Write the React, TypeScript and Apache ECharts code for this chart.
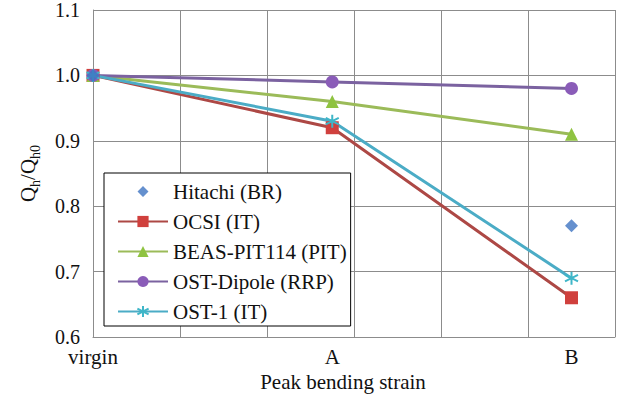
import React, { useEffect, useRef } from 'react';
import * as echarts from 'echarts';

const categories = ['virgin', 'A', 'B'];
const strainPositions = [0, 2.75, 5.5];
const hitachi: (number | null)[] = [1.0, null, 0.77];
const ocsi = [1.0, 0.92, 0.66];
const beas = [1.0, 0.96, 0.91];
const ostDipole = [1.0, 0.99, 0.98];
const ost1 = [1.0, 0.93, 0.69];
const seriesNames = ['Hitachi (BR)', 'OCSI (IT)', 'BEAS-PIT114 (PIT)', 'OST-Dipole (RRP)', 'OST-1 (IT)'];

const FONT = 'Liberation Serif';
const FS = 21;

function pairs(vals: (number | null)[]) {
  return vals
    .map((v, i) => [strainPositions[i], v])
    .filter((p) => p[1] !== null);
}

const diamondLegendIcon =
  'path://M0,6.9L0.2,7L0,7.1ZM50,6.9L49.8,7L50,7.1ZM25,1.5L30.5,7L25,12.5L19.5,7Z';

export default function App() {
  const ref = useRef<HTMLDivElement>(null);
  useEffect(() => {
    document.body.style.margin = '0';
    const chart = echarts.init(ref.current!, null, { renderer: 'svg' });
    const lineCommon = {
      type: 'line',
      symbolSize: 13,
      z: 2,
    };
    chart.setOption({
      animation: false,
      backgroundColor: '#fff',
      textStyle: { fontFamily: FONT },
      grid: { left: 93, top: 8, width: 522, height: 329, containLabel: false },
      xAxis: {
        type: 'value',
        min: 0,
        max: 6,
        interval: 1,
        name: 'Peak bending strain',
        nameLocation: 'middle',
        nameGap: 34,
        nameTextStyle: { fontFamily: FONT, fontSize: FS, color: '#111', padding: [0, 22, 0, 0] },
        axisLine: { show: true, lineStyle: { color: '#8c8c8c', width: 1 } },
        axisTick: { show: false },
        splitLine: { show: true, lineStyle: { color: '#8c8c8c', width: 1 } },
        axisLabel: {
          customValues: strainPositions,
          margin: 9,
          fontFamily: FONT,
          fontSize: FS,
          color: '#111',
          formatter: (v: number) => {
            const i = strainPositions.findIndex((p) => Math.abs(p - v) < 1e-6);
            return i >= 0 ? categories[i] : '';
          },
        },
      },
      yAxis: {
        type: 'value',
        min: 0.6,
        max: 1.1,
        interval: 0.1,
        name: '{q|Q}{s|h}{q|/Q}{s|h0}',
        nameLocation: 'middle',
        nameGap: 55,
        nameRotate: 90,
        nameTextStyle: {
          fontFamily: FONT,
          color: '#111',
          rich: {
            q: { fontFamily: FONT, fontSize: FS, color: '#111', lineHeight: 22, verticalAlign: 'bottom' },
            s: { fontFamily: FONT, fontSize: 14, color: '#111', lineHeight: 22, verticalAlign: 'bottom', padding: [0, 0, -4, 0] },
          },
        },
        axisLine: { show: true, lineStyle: { color: '#8c8c8c', width: 1 } },
        axisTick: { show: false },
        splitLine: { show: true, lineStyle: { color: '#8c8c8c', width: 1 } },
        axisLabel: {
          margin: 13,
          fontFamily: FONT,
          fontSize: 20,
          color: '#111',
          formatter: (v: number) => v.toFixed(1),
        },
      },
      legend: {
        orient: 'vertical',
        left: 104,
        top: 173,
        width: 249,
        backgroundColor: '#fff',
        borderColor: '#000',
        borderWidth: 1,
        borderRadius: 0,
        padding: [8, 4, 4, 13],
        itemWidth: 50,
        itemHeight: 14,
        itemGap: 9,
        data: seriesNames.map((n, i) => (i === 0 ? { name: n, icon: diamondLegendIcon } : { name: n })),
        textStyle: { fontFamily: FONT, fontSize: FS, color: '#111', lineHeight: 21 },
      },
      series: [
        {
          ...lineCommon,
          name: seriesNames[1],
          data: pairs(ocsi),
          symbol: 'rect',
          itemStyle: { color: '#d0403d' },
          lineStyle: { width: 3, color: '#ad4845' },
        },
        {
          ...lineCommon,
          name: seriesNames[2],
          data: pairs(beas),
          symbol: 'triangle',
          itemStyle: { color: '#8fc341' },
          lineStyle: { width: 3, color: '#9bbb59' },
        },
        {
          ...lineCommon,
          name: seriesNames[3],
          data: pairs(ostDipole),
          symbol: 'circle',
          itemStyle: { color: '#8a5cb8' },
          lineStyle: { width: 3, color: '#7b62a0' },
        },
        {
          ...lineCommon,
          name: seriesNames[4],
          data: pairs(ost1),
          symbol: 'path://M6,0L6,12M0,3L12,9M0,9L12,3',
          itemStyle: { color: '#3fb6c8', borderColor: '#3fb6c8', borderWidth: 2 },
          lineStyle: { width: 3, color: '#4bacc6' },
        },
        {
          type: 'scatter',
          name: seriesNames[0],
          data: pairs(hitachi),
          symbol: 'diamond',
          symbolSize: 13,
          itemStyle: { color: '#3e74c2' },
          z: 5,
        },
      ],
    });
    return () => chart.dispose();
  }, []);
  return <div ref={ref} style={{ width: 617, height: 399 }} />;
}
